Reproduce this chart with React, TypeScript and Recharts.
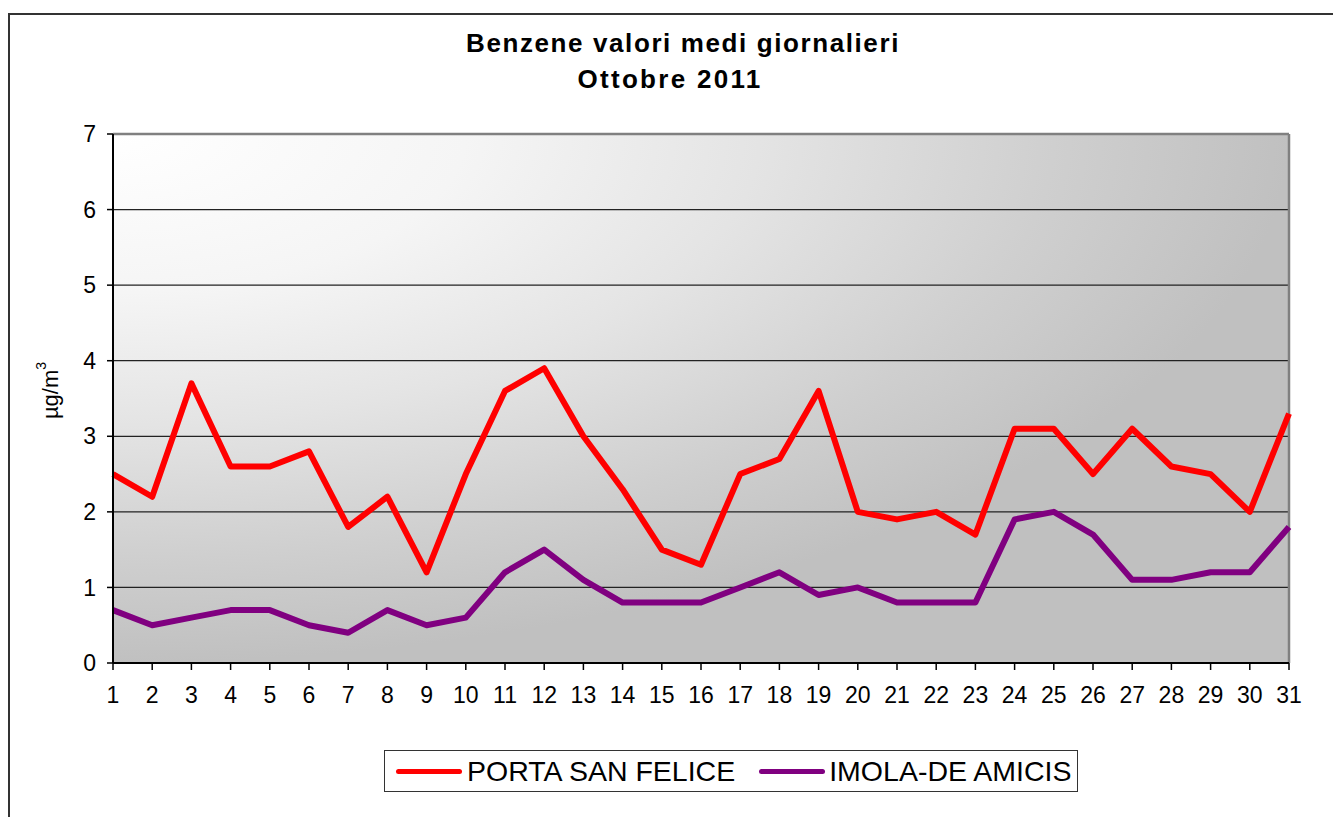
import React from 'react';
import { LineChart, Line, XAxis, YAxis, CartesianGrid, ReferenceLine, Legend } from 'recharts';

const days = [1, 2, 3, 4, 5, 6, 7, 8, 9, 10, 11, 12, 13, 14, 15, 16, 17, 18, 19, 20, 21, 22, 23, 24, 25, 26, 27, 28, 29, 30, 31];
const portaSanFelice = [2.5, 2.2, 3.7, 2.6, 2.6, 2.8, 1.8, 2.2, 1.2, 2.5, 3.6, 3.9, 3.0, 2.3, 1.5, 1.3, 2.5, 2.7, 3.6, 2.0, 1.9, 2.0, 1.7, 3.1, 3.1, 2.5, 3.1, 2.6, 2.5, 2.0, 3.3];
const imolaDeAmicis = [0.7, 0.5, 0.6, 0.7, 0.7, 0.5, 0.4, 0.7, 0.5, 0.6, 1.2, 1.5, 1.1, 0.8, 0.8, 0.8, 1.0, 1.2, 0.9, 1.0, 0.8, 0.8, 0.8, 1.9, 2.0, 1.7, 1.1, 1.1, 1.2, 1.2, 1.8];
const yTicks = [0, 1, 2, 3, 4, 5, 6, 7];
const seriesNames = ['PORTA SAN FELICE', 'IMOLA-DE AMICIS'];
const seriesColors = ['#ff0000', '#800080'];
const titleLines = ['Benzene valori medi giornalieri', 'Ottobre 2011'];

const data = days.map((d, i) => ({ day: d, porta: portaSanFelice[i], imola: imolaDeAmicis[i] }));

const FONT = '"Liberation Sans", Arial, Helvetica, sans-serif';

const renderLegend = () => (
  <div
    style={{
      boxSizing: 'border-box',
      width: 694,
      height: 42,
      border: '1.5px solid #333',
      background: '#fff',
      display: 'flex',
      alignItems: 'center',
      fontFamily: FONT,
      fontSize: 28.5,
      color: '#000',
      whiteSpace: 'nowrap',
    }}
  >
    <span style={{ display: 'inline-block', width: 66, height: 5, borderRadius: 3, background: seriesColors[0], marginLeft: 11, marginRight: 5 }} />
    <span>{seriesNames[0]}</span>
    <span style={{ display: 'inline-block', width: 66, height: 5, borderRadius: 3, background: seriesColors[1], marginLeft: 24, marginRight: 4 }} />
    <span>{seriesNames[1]}</span>
  </div>
);

const YLabel = (props: any) => {
  const vb = props.viewBox || { x: 33, y: 134, width: 80, height: 529 };
  const cx = vb.x + 17;
  const cy = vb.y + vb.height / 2 - 8;
  return (
    <text
      x={cx}
      y={cy}
      transform={`rotate(-90 ${cx} ${cy})`}
      textAnchor="middle"
      dominantBaseline="central"
      fontFamily={FONT}
      fontSize={22}
      fill="#000"
    >
      µg/m<tspan dy={-9} fontSize={14}>3</tspan>
    </text>
  );
};

export default function App() {
  return (
    <div style={{ position: 'fixed', left: 0, top: 0, width: 1333, height: 817, overflow: 'hidden', background: '#fff' }}>
      <svg width={0} height={0} style={{ position: 'absolute' }}>
        <defs>
          <radialGradient id="plotBg" cx="0" cy="0" r="1" fx="0" fy="0">
            <stop offset="0" stopColor="#ffffff" />
            <stop offset="0.3" stopColor="#f5f5f5" />
            <stop offset="0.55" stopColor="#e4e4e4" />
            <stop offset="0.8" stopColor="#cfcfcf" />
            <stop offset="1" stopColor="#c0c0c0" />
          </radialGradient>
        </defs>
      </svg>
      <div
        style={{
          position: 'absolute',
          left: 8,
          top: 13,
          width: 1400,
          height: 900,
          borderLeft: '2px solid #333',
          borderTop: '2px solid #333',
        }}
      />
      <div style={{ position: 'absolute', left: 0, top: 0 }}>
        <LineChart
          width={1333}
          height={817}
          data={data}
          margin={{ top: 134, right: 44, bottom: 94, left: 33 }}
        >
          <CartesianGrid
            vertical={false}
            horizontal={true}
            stroke="#222"
            strokeWidth={1.2}
            fill="url(#plotBg)"
            fillOpacity={1}
          />
          <XAxis
            dataKey="day"
            type="category"
            interval={0}
            height={60}
            tickSize={7}
            tickMargin={17}
            axisLine={{ stroke: '#000', strokeWidth: 2 }}
            tickLine={{ stroke: '#000', strokeWidth: 1.5 }}
            tick={{ fontFamily: FONT, fontSize: 23, fill: '#000' }}
          />
          <YAxis
            width={80}
            domain={[0, 7]}
            ticks={yTicks}
            interval={0}
            tickSize={6}
            tickMargin={11}
            axisLine={{ stroke: '#000', strokeWidth: 2 }}
            tickLine={{ stroke: '#000', strokeWidth: 1.5 }}
            tick={{ fontFamily: FONT, fontSize: 23, fill: '#000' }}
            label={<YLabel />}
          />
          <ReferenceLine y={7} stroke="#808080" strokeWidth={2.5} />
          <ReferenceLine x={31} stroke="#808080" strokeWidth={2.5} />
          <Line
            type="linear"
            dataKey="porta"
            name={seriesNames[0]}
            stroke={seriesColors[0]}
            strokeWidth={6}
            strokeLinejoin="round"
            dot={false}
            activeDot={false}
            isAnimationActive={false}
          />
          <Line
            type="linear"
            dataKey="imola"
            name={seriesNames[1]}
            stroke={seriesColors[1]}
            strokeWidth={6}
            strokeLinejoin="round"
            dot={false}
            activeDot={false}
            isAnimationActive={false}
          />
          <Legend
            verticalAlign="middle"
            align="center"
            layout="horizontal"
            content={renderLegend}
            wrapperStyle={{ left: 384, top: 750, width: 694, height: 42 }}
          />
          <g>
            <text x={683} y={52} textAnchor="middle" fontFamily={FONT} fontSize={26} fontWeight="bold" letterSpacing={1.6} fill="#000">
              {titleLines[0]}
            </text>
            <text x={670} y={88} textAnchor="middle" fontFamily={FONT} fontSize={26} fontWeight="bold" letterSpacing={2.3} fill="#000">
              {titleLines[1]}
            </text>
          </g>
        </LineChart>
      </div>
    </div>
  );
}
